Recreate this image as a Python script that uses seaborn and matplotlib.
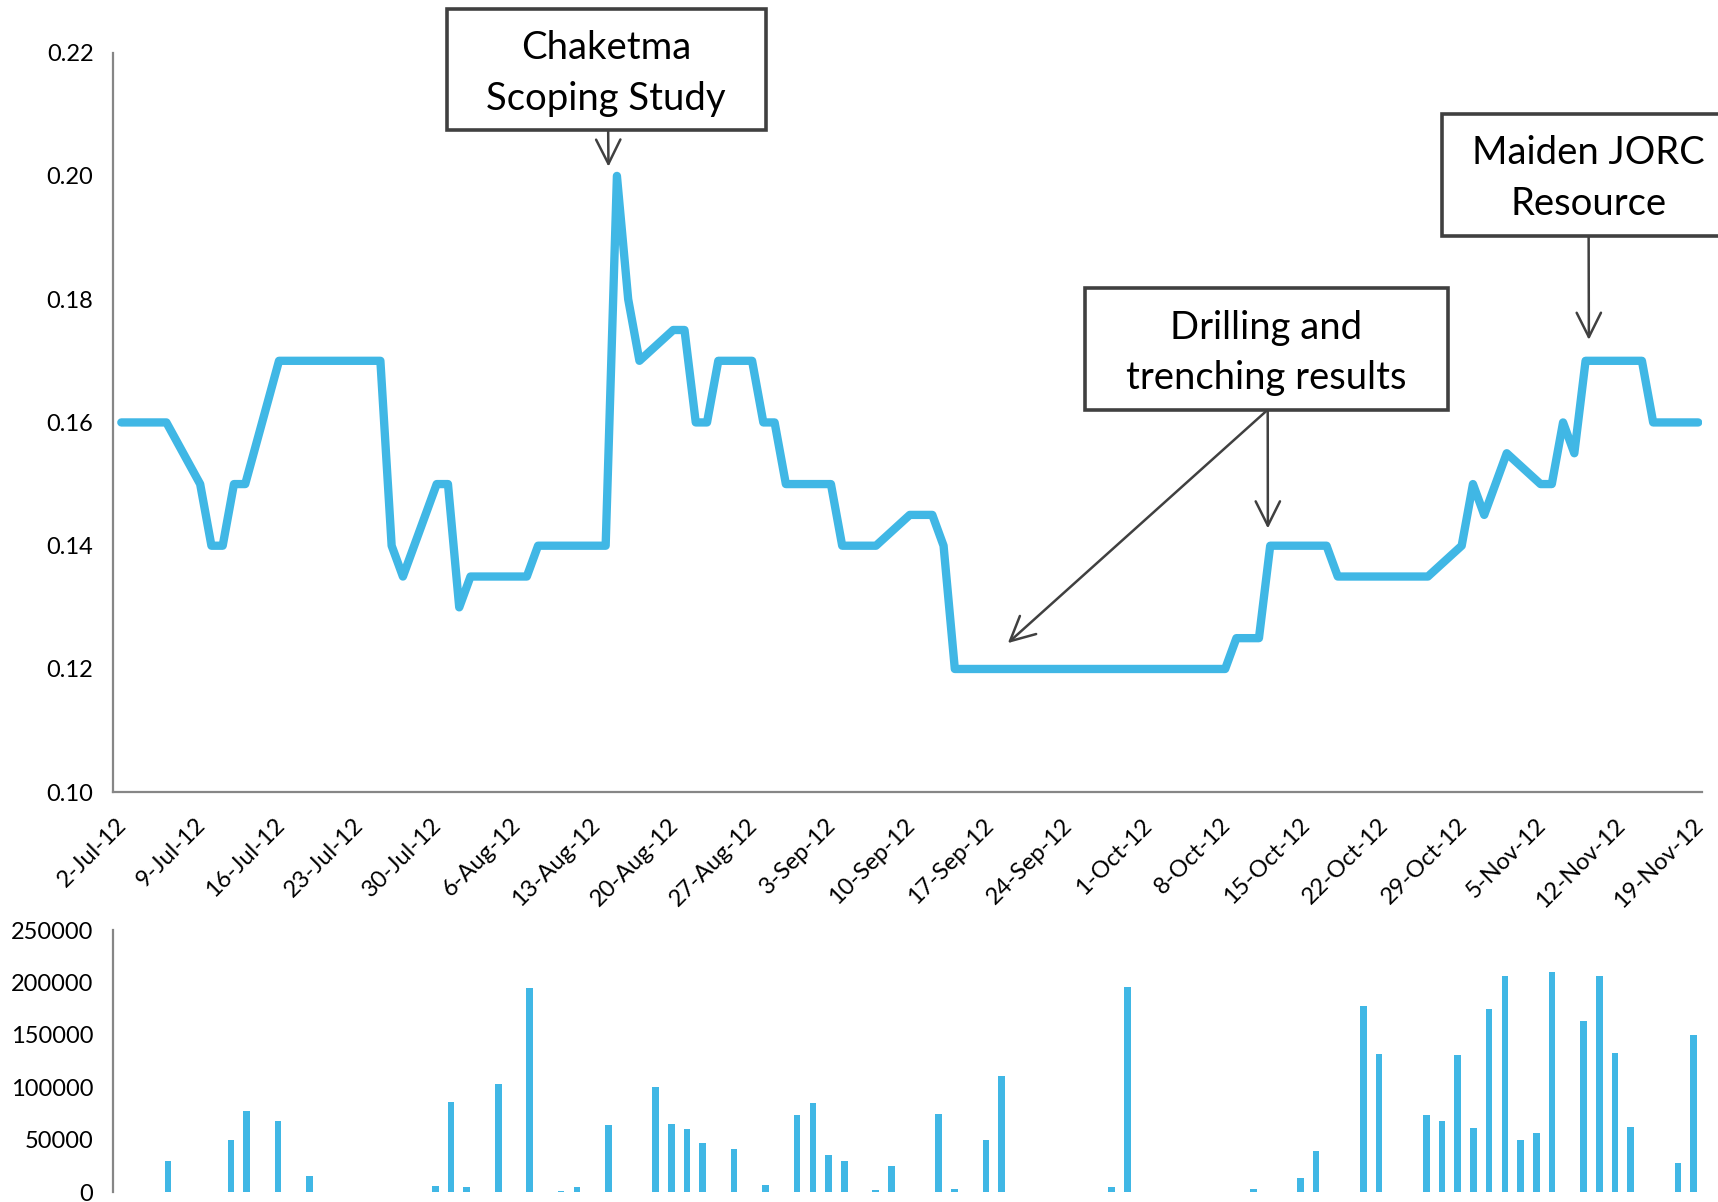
import pandas as pd
import numpy as np
import seaborn as sns
import matplotlib.pyplot as plt
from matplotlib.patches import Rectangle

sns.set_theme(style="white")
plt.rcParams['font.family'] = ['Lato', 'DejaVu Sans']

blue = "#40B7E5"
grey = "#868686"
dark = "#404040"

# trading days Jul 2 - Nov 19 2012
days = pd.bdate_range("2012-07-02", "2012-11-19")

# closing price, one per trading day (week by week)
price = [0.16, 0.16, 0.16, 0.16, 0.16,      # 2-Jul
         0.15, 0.14, 0.14, 0.15, 0.15,      # 9-Jul
         0.17, 0.17, 0.17, 0.17, 0.17,      # 16-Jul
         0.17, 0.17, 0.17, 0.14, 0.135,     # 23-Jul
         0.15, 0.15, 0.13, 0.135, 0.135,    # 30-Jul
         0.135, 0.135, 0.14, 0.14, 0.14,    # 6-Aug
         0.14, 0.14, 0.20, 0.18, 0.17,      # 13-Aug
         0.175, 0.175, 0.16, 0.16, 0.17,    # 20-Aug
         0.17, 0.16, 0.16, 0.15, 0.15,      # 27-Aug
         0.15, 0.14, 0.14, 0.14, 0.14,      # 3-Sep
         0.145, 0.145, 0.145, 0.14, 0.12,   # 10-Sep
         0.12, 0.12, 0.12, 0.12, 0.12,      # 17-Sep
         0.12, 0.12, 0.12, 0.12, 0.12,      # 24-Sep
         0.12, 0.12, 0.12, 0.12, 0.12,      # 1-Oct
         0.12, 0.125, 0.125, 0.125, 0.14,   # 8-Oct
         0.14, 0.14, 0.14, 0.135, 0.135,    # 15-Oct
         0.135, 0.135, 0.135, 0.135, 0.135, # 22-Oct
         0.14, 0.15, 0.145, 0.15, 0.155,    # 29-Oct
         0.15, 0.15, 0.16, 0.155, 0.17,     # 5-Nov
         0.17, 0.17, 0.17, 0.16, 0.16,      # 12-Nov
         0.16]                              # 19-Nov

# traded volume (days with trades only)
vol_dates = ["2012-07-05", "2012-07-11", "2012-07-12", "2012-07-16", "2012-07-18",
             "2012-07-30", "2012-07-31", "2012-08-01", "2012-08-03", "2012-08-06",
             "2012-08-07", "2012-08-09", "2012-08-10", "2012-08-14", "2012-08-17",
             "2012-08-20", "2012-08-21", "2012-08-22", "2012-08-24", "2012-08-28",
             "2012-08-30", "2012-08-31", "2012-09-03", "2012-09-04", "2012-09-06",
             "2012-09-07", "2012-09-12", "2012-09-13", "2012-09-17", "2012-09-18",
             "2012-09-27", "2012-09-28", "2012-10-02", "2012-10-10", "2012-10-15",
             "2012-10-16", "2012-10-19", "2012-10-22", "2012-10-25", "2012-10-26",
             "2012-10-29", "2012-10-30", "2012-10-31", "2012-11-01", "2012-11-02",
             "2012-11-05", "2012-11-06", "2012-11-08", "2012-11-09", "2012-11-12",
             "2012-11-13", "2012-11-16", "2012-11-19"]
vol = [30000, 50000, 77000, 68000, 15000,
       5700, 86000, 5100, 103000, 600,
       195000, 1000, 5100, 64000, 100000,
       65000, 60000, 47000, 41000, 6700,
       74000, 85000, 35000, 30000, 2200,
       24500, 75000, 3200, 50000, 111000,
       4500, 196000, 500, 3200, 13700,
       39400, 178000, 132000, 73500, 68000,
       131000, 61000, 175000, 206000, 50000,
       56000, 210000, 163000, 206000, 133000,
       62000, 27700, 150000]

df_price = pd.DataFrame({"date": days, "price": price})
df_vol = pd.DataFrame({"date": days})
df_vol["volume"] = df_vol["date"].map(dict(zip(pd.to_datetime(vol_dates), vol))).fillna(0)
df_vol["day"] = df_vol["date"].dt.strftime("%Y-%m-%d")

fig = plt.figure(figsize=(17.18, 12.02), dpi=100)
ax1 = fig.add_axes([0.0657, 0.3409, 0.9247, 0.6153])
ax2 = fig.add_axes([0.0657, 0.0082, 0.9247, 0.2179])

# price line (each day sits in the middle of its slot, like excel date axis)
sns.lineplot(data=df_price, x="date", y="price", ax=ax1, color=blue, lw=6,
             solid_joinstyle="round", solid_capstyle="round")
ax1.set_xlim(pd.Timestamp("2012-07-02") - pd.Timedelta(hours=18),
             pd.Timestamp("2012-11-19") + pd.Timedelta(hours=7))
ax1.set_ylim(0.10, 0.22)
mondays = pd.date_range("2012-07-02", "2012-11-19", freq="7D")
ax1.set_xticks(mondays - pd.Timedelta(hours=12))
ax1.set_xticklabels([f"{d.day}-{d.strftime('%b-%y')}" for d in mondays],
                    rotation=45, ha="right", rotation_mode="anchor", fontsize=17)
ax1.set_yticks(np.arange(0.10, 0.2201, 0.02))
ax1.set_yticklabels([f"{v:.2f}" for v in np.arange(0.10, 0.2201, 0.02)], fontsize=17)
ax1.set_xlabel("")
ax1.set_ylabel("")

# volume bars
sns.barplot(data=df_vol, x="day", y="volume", ax=ax2, color=blue, width=0.42,
            errorbar=None, saturation=1, linewidth=0)
ax2.set_xlim(-0.5, len(days) - 0.5)
ax2.set_ylim(0, 250000)
ax2.set_yticks(range(0, 250001, 50000))
ax2.set_yticklabels([str(v) for v in range(0, 250001, 50000)], fontsize=17)
ax2.set_xticks([])
ax2.set_xlabel("")
ax2.set_ylabel("")

for ax in (ax1, ax2):
    sns.despine(ax=ax)
    for s in ("left", "bottom"):
        ax.spines[s].set_color(grey)
        ax.spines[s].set_linewidth(1.6)
    ax.tick_params(axis="both", direction="out", length=8, width=1.6, color=grey,
                   labelcolor="black", pad=6)
ax2.spines["bottom"].set_visible(False)
ax1.tick_params(axis="x", pad=8)

# annotation boxes
boxes = [("Chaketma\nScoping Study", 0.2602, 0.8915, 0.1856, 0.3527, 0.9389),
         ("Drilling and\ntrenching results", 0.6314, 0.6591, 0.2117, 0.7372, 0.7062),
         ("Maiden JORC\nResource", 0.8393, 0.8040, 0.1710, 0.9247, 0.8514)]
for txt, x0, y0, w, tx, ty in boxes:
    fig.patches.append(Rectangle((x0, y0), w, 0.1012, transform=fig.transFigure,
                                 facecolor="white", edgecolor=dark, lw=2.6, zorder=5))
    fig.text(tx, ty, txt, ha="center", va="center", fontsize=27.5, color="black",
             linespacing=1.5, zorder=6)

arrows = [(pd.Timestamp("2012-08-14 06:00"), 0.2015, 0.3540, 0.8915),
          (pd.Timestamp("2012-09-18 17:00"), 0.1242, 0.7379, 0.6591),
          (pd.Timestamp("2012-10-11 19:00"), 0.1428, 0.7379, 0.6591),
          (pd.Timestamp("2012-11-09 07:00"), 0.1734, 0.9247, 0.8040)]
for d, v, fx, fy in arrows:
    ax1.annotate("", xy=(d, v), xycoords="data", xytext=(fx, fy),
                 textcoords="figure fraction", annotation_clip=False,
                 arrowprops=dict(arrowstyle="->,head_length=0.7,head_width=0.35",
                                 color=dark, lw=1.8, mutation_scale=25,
                                 shrinkA=0, shrinkB=0))

fig.savefig("out.png", dpi=100)
